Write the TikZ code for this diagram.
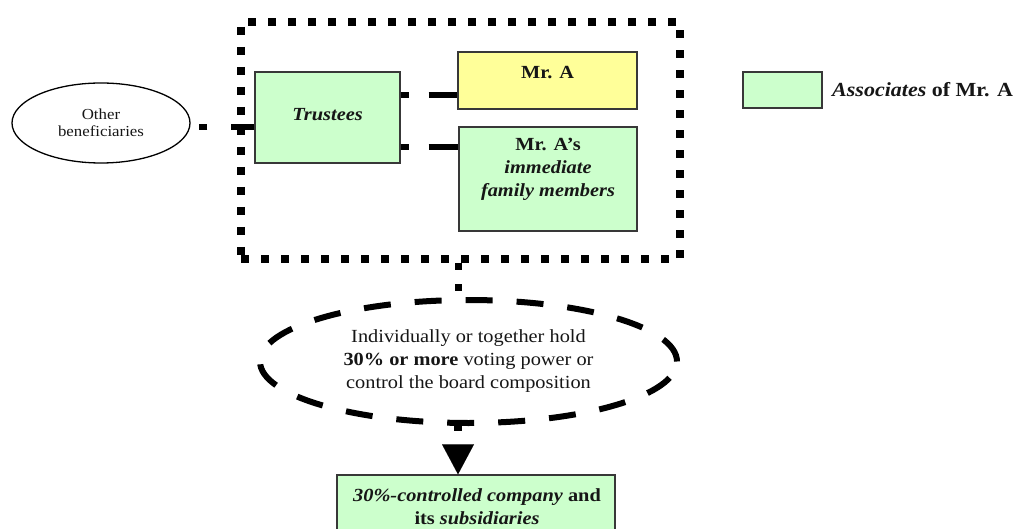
\documentclass[tikz,border=0pt]{standalone}
\usepackage{fontspec}
\setmainfont[FakeStretch=1.1]{Liberation Serif}
\usetikzlibrary{arrows.meta,shapes.geometric,calc}
\definecolor{assocgreen}{HTML}{CCFFCC}
\definecolor{mrayellow}{HTML}{FFFF99}
\definecolor{ink}{HTML}{161616}
\definecolor{edgegray}{HTML}{383838}

\begin{document}
\begin{tikzpicture}[x=1pt,y=-1pt,
  entity/.style={draw=edgegray, line width=1.4pt, inner sep=0pt},
  assoc/.style={entity, fill=assocgreen},
  person/.style={entity, fill=mrayellow},
  bigtext/.style={text=ink, align=center, font=\fontsize{18.5}{23}\selectfont},
  smalltext/.style={text=ink, align=center, font=\fontsize{15.3}{17}\selectfont},
  groupframe/.style={draw=black, line width=8pt, dash pattern=on 8pt off 12pt},
  dotlink/.style={draw=black, line width=7pt, dash pattern=on 7pt off 14pt},
  linkline/.style={draw=black, line width=6pt, dash pattern=on 8pt off 20pt on 60pt off 20pt},
  otherlink/.style={draw=black, line width=6pt, dash pattern=on 23pt off 24pt on 8pt off 40pt},
  holdring/.style={ellipse, draw=black, line width=6pt, dash pattern=on 27pt off 24pt, inner sep=0pt},
  flowarrow/.style={draw=black, line width=8pt, dash pattern=on 5pt off 14pt on 100pt off 0pt,
    -{Triangle[width=32pt,length=30pt,line width=0.01pt]}}
]
\useasboundingbox (0,0) rectangle (1016,529);
\clip (0,0) rectangle (1016,529);

% group of Mr. A and the trustees
\node[groupframe, minimum width=439pt, minimum height=237pt, inner sep=0pt] (group) at (460.5,140.5) {};

\node[assoc, minimum width=145pt, minimum height=91pt] (trustees) at (327.5,117.5) {};
\node[bigtext, font=\fontsize{18.5}{23}\selectfont\bfseries\itshape] (trusteesText) at ([yshift=3pt]trustees.center) {Trustees};

\node[person, minimum width=179pt, minimum height=57pt] (mra) at (547.5,80.5) {};
\node[bigtext, font=\fontsize{18.5}{23}\selectfont\bfseries] (mraText) at (547.5,73) {Mr. A};

\node[assoc, minimum width=178pt, minimum height=104pt] (family) at (548,179) {};
\node[bigtext, font=\fontsize{18.5}{23}\selectfont\bfseries] (familyText) at (548,169.5)
  {Mr. A's\\\textit{immediate}\\\textit{family members}};

% other beneficiaries of the trust
\node[ellipse, draw=black, line width=1.3pt, minimum width=178pt, minimum height=80pt, inner sep=0pt,
  smalltext] (other) at (101,123) {Other\\beneficiaries};

% legend
\node[assoc, minimum width=79pt, minimum height=36pt] (legend) at (782.5,90) {};
\node[bigtext, font=\fontsize{20}{23}\selectfont\bfseries, anchor=west] (legendText)
  at ([xshift=6pt]legend.east) {\textit{Associates} of Mr. A};

% holding condition
\node[holdring, minimum width=417pt, minimum height=123pt, bigtext] (hold) at (468.5,361.5)
  {Individually or together hold\\\textbf{30\% or more} voting power or\\control the board composition};

% resulting company
\node[assoc, minimum width=278pt, minimum height=64pt] (company) at (476,507) {};
\node[bigtext, font=\fontsize{18.5}{23}\selectfont\bfseries] (companyText) at (477,506.5)
  {\textit{30\%-controlled company} and\\its \textit{subsidiaries}};

% connectors
\coordinate (spine) at (458,0);
\coordinate (tMr) at ([yshift=22.5pt]trustees.east);
\coordinate (tFam) at ([yshift=-29.5pt]trustees.east);
\coordinate (tOther) at ([yshift=-9.5pt]trustees.west);

\draw[linkline] (tMr) -- (tMr -| mra.west);
\draw[linkline] (tFam) -- (tFam -| family.west);
\draw[otherlink] (tOther) -- (tOther -| other.east);
\draw[dotlink] (group.south -| spine) -- (hold.north -| spine);
\draw[flowarrow] (hold.south -| spine) -- (company.north -| spine);
\end{tikzpicture}
\end{document}
